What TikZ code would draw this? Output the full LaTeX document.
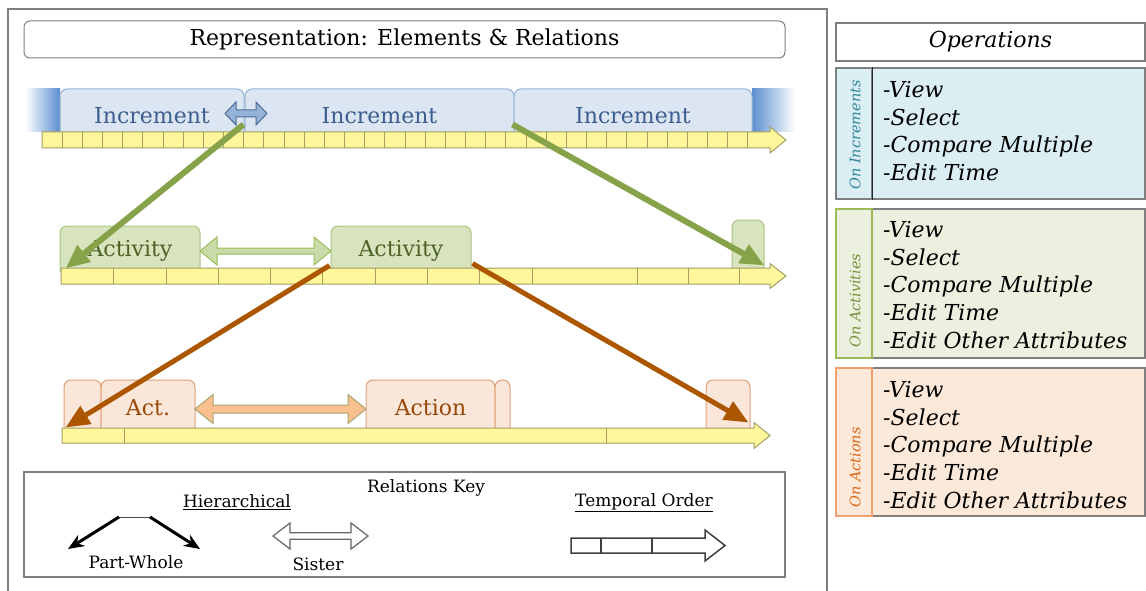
\documentclass[tikz,border=0pt]{standalone}
\usepackage{fontspec}
\setmainfont{DejaVu Serif}
\usetikzlibrary{arrows.meta,calc}

\definecolor{framegray}{HTML}{7F7F7F}
\definecolor{incfill}{HTML}{DCE6F2}
\definecolor{incedge}{HTML}{95B3D7}
\definecolor{inctext}{HTML}{3B5E8F}
\definecolor{incblue}{HTML}{5B8FD0}
\definecolor{incsis}{HTML}{95B3D7}
\definecolor{incsisedge}{HTML}{4F6C99}
\definecolor{actfill}{HTML}{D7E4BD}
\definecolor{actedge}{HTML}{A9C47F}
\definecolor{acttext}{HTML}{4F6228}
\definecolor{actsis}{HTML}{C9DBA8}
\definecolor{actsisedge}{HTML}{9BBB59}
\definecolor{actnfill}{HTML}{FBE7DA}
\definecolor{actnedge}{HTML}{DDA077}
\definecolor{actntext}{HTML}{984807}
\definecolor{actnsis}{HTML}{FAC090}
\definecolor{actnsisedge}{HTML}{A5A56E}
\definecolor{stripfill}{HTML}{FFF799}
\definecolor{stripedge}{HTML}{A39D68}
\definecolor{partgreen}{HTML}{86A34A}
\definecolor{partbrown}{HTML}{AD5600}
\definecolor{incpanel}{HTML}{DBEEF4}
\definecolor{actpanel}{HTML}{EBF1DE}
\definecolor{actnpanel}{HTML}{FDE9D9}
\definecolor{inclab}{HTML}{31859C}
\definecolor{actlab}{HTML}{76923C}
\definecolor{actnlab}{HTML}{D8681A}
\definecolor{actnlabedge}{HTML}{F0A070}

\tikzset{
  elembox/.style={draw, line width=1pt, rounded corners=7pt, inner sep=0pt,
    font=\fontsize{22}{26}\selectfont},
  incbox/.style={elembox, fill=incfill, draw=incedge, text=inctext},
  actbox/.style={elembox, fill=actfill, draw=actedge, text=acttext},
  actnbox/.style={elembox, fill=actnfill, draw=actnedge, text=actntext},
  strip/.style={fill=stripfill, draw=stripedge, line width=1pt},
  cell/.style={draw=stripedge, line width=1pt},
  partof/.style={-{Triangle[length=24pt,width=20pt]}, line width=6pt},
  keytext/.style={inner sep=0pt, font=\fontsize{17}{20}\selectfont},
  pwarrow/.style={-{Stealth[length=16pt,width=13pt]}, line width=3pt},
  panel/.style={draw=framegray, line width=1.5pt, inner sep=0pt},
  oplist/.style={anchor=north west, align=left, inner sep=0pt,
    font=\fontsize{22}{27.7}\selectfont\itshape},
  sidelabel/.style={rotate=90, anchor=west, inner sep=0pt,
    font=\fontsize{14.5}{17}\selectfont\itshape},
}

% timeline: style, x start, shaft end, tip, top, bottom, head overhang
\newcommand{\timestrip}[7]{%
  \draw[#1] (#2,#5) -- (#3,#5) -- (#3,#5-#7) -- (#4,{(#5+#6)/2})
    -- (#3,#6+#7) -- (#3,#6) -- (#2,#6) -- cycle;}
% sister relation: style, x1, x2, y, shaft half, head half, head length
\newcommand{\sisterarrow}[7]{%
  \draw[#1] (#2,#4) -- ++(#7,-#6) -- ++(0,#6-#5) -- (#3-#7,#4-#5)
    -- ++(0,#5-#6) -- (#3,#4) -- ++(-#7,#6) -- ++(0,#5-#6)
    -- (#2+#7,#4+#5) -- ++(0,#6-#5) -- cycle;}

\begin{document}
\begin{tikzpicture}[x=1pt, y=-1pt]
\useasboundingbox (0,0) rectangle (1146,591);

% left frame and title
\draw[framegray, line width=2pt] (8,591) -- (8,9) -- (827,9) -- (827,591);
\node[draw=framegray, line width=1pt, rounded corners=6pt, minimum width=761pt,
  minimum height=37pt, inner sep=0pt, font=\fontsize{22}{26}\selectfont]
  (title) at (404.5,39.5) {Representation: Elements \& Relations};

% increments
\shade[left color=white, right color=incblue] (25,89) rectangle (60,132);
\shade[left color=incblue, right color=white] (752,89) rectangle (795,132);
\node[incbox, minimum width=184pt, minimum height=53pt] (inc1) at (152,115.5) {Increment};
\node[incbox, minimum width=269pt, minimum height=53pt] (inc2) at (379.5,115.5) {Increment};
\node[incbox, minimum width=238pt, minimum height=53pt] (inc3) at (633,115.5) {Increment};
\timestrip{strip}{42}{770}{786}{132}{148}{5}
\foreach \i in {1,...,35}
  \draw[cell] ({42+\i*20.17},132) -- ++(0,16);
\sisterarrow{fill=incsis, draw=incsisedge, line width=1pt}{225}{267}{113.5}{3.5}{11.5}{11}

% activities
\node[actbox, minimum width=140pt, minimum height=50pt] (act1) at (130,251) {Activity};
\node[actbox, minimum width=140pt, minimum height=50pt] (act2) at (401,251) {Activity};
\node[actbox, minimum width=32pt, minimum height=56pt] (act3) at (748,248) {};
\timestrip{strip}{61}{770}{786}{268}{284}{4.5}
\foreach \x in {113,166,218,270,322,375,427,479,532,637,688,739}
  \draw[cell] (\x,268) -- ++(0,16);
\sisterarrow{fill=actsis, draw=actsisedge, line width=1pt}{200}{331}{251}{3}{14}{17}

% actions
\node[actnbox, minimum width=37pt, minimum height=55pt] (actn1) at (82.5,407.5) {};
\node[actnbox, minimum width=94pt, minimum height=55pt] (actn2) at (148,407.5) {Act.};
\node[actnbox, minimum width=129pt, minimum height=55pt] (actn3) at (430.5,407.5) {Action};
\node[actnbox, minimum width=15pt, minimum height=55pt] (actn4) at (502.5,407.5) {};
\node[actnbox, minimum width=44pt, minimum height=55pt] (actn5) at (728,407.5) {};
\timestrip{strip}{62}{754}{770}{428}{443}{5.5}
\foreach \x in {124,606}
  \draw[cell] (\x,428) -- ++(0,15);
\sisterarrow{fill=actnsis, draw=actnsisedge, line width=1pt}{195}{366}{409}{4}{14.5}{18}

% part-whole links between levels
\coordinate (incA) at ($(inc1.south east)+(-1,-18)$);
\coordinate (incB) at ($(inc3.south west)+(-1,-18)$);
\coordinate (actA) at ($(act1.south west)+(6,-8)$);
\coordinate (actB) at ($(act3.south east)+(0,-11)$);
\coordinate (actC) at ($(act2.south west)+(-1,-11)$);
\coordinate (actD) at ($(act2.south east)+(1,-13)$);
\coordinate (actnA) at ($(actn1.south west)+(2,-8)$);
\coordinate (actnB) at ($(actn5.south east)+(-2,-13)$);
\draw[partof, partgreen] (incA) -- (actA);
\draw[partof, partgreen] (incB) -- (actB);
\draw[partof, partbrown, line width=5pt] (actC) -- (actnA);
\draw[partof, partbrown, line width=5pt] (actD) -- (actnB);

% relations key
\node[draw=framegray, line width=1.5pt, minimum width=761pt, minimum height=105pt,
  inner sep=0pt] (key) at (404.5,524.5) {};
\node[keytext] (keytitle) at (426,488) {Relations Key};
\node[keytext] (hier) at (237,502) {\underline{Hierarchical}};
\node[keytext] (temporal) at (644,503) {\underline{Temporal Order}};
\node[keytext] (partwhole) at (136,562) {Part-Whole};
\node[keytext] (sister) at (318,564) {Sister};
\coordinate (pwl) at (119,517);
\coordinate (pwr) at (150,517);
\coordinate (pwa) at (68,549);
\coordinate (pwb) at (200,549);
\draw[black!70, line width=1pt] (pwl) -- (pwr);
\draw[pwarrow] (pwl) -- (pwa);
\draw[pwarrow] (pwr) -- (pwb);
\sisterarrow{fill=white, draw=black!60, line width=1.2pt}{273}{368}{536}{3.3}{13}{17}
\timestrip{fill=white, draw=black!75, line width=1.5pt}{571}{705}{725}{538}{553}{8}
\foreach \x in {601,652}
  \draw[black!75, line width=1.5pt] (\x,538) -- ++(0,15);

% operations
\node[panel, fill=white, minimum width=309pt, minimum height=38pt,
  font=\fontsize{22}{26}\selectfont\itshape] (ops) at (990.5,42) {Operations};

\node[panel, fill=incpanel, minimum width=309pt, minimum height=131pt] (pinc) at (990.5,133.5) {};
\node[draw=framegray, line width=1.2pt, minimum width=131pt, minimum height=36pt,
  inner sep=0pt, rotate=90] (linc) at (854,133.5) {};
\draw[black!85, line width=1.5pt] (linc.south west) -- (linc.south east);
\node[sidelabel, text=inclab] (tinc) at (855,190) {On Increments};
\node[oplist] (opsinc) at (883,81) {-View\\-Select\\-Compare Multiple\\-Edit Time};

\node[panel, fill=actpanel, minimum width=309pt, minimum height=149pt] (pact) at (990.5,283.5) {};
\node[draw=actsisedge, line width=1.2pt, minimum width=149pt, minimum height=36pt,
  inner sep=0pt, rotate=90] (lact) at (854,283.5) {};
\node[sidelabel, text=actlab] (tact) at (855,348) {On Activities};
\node[oplist] (opsact) at (883,221) {-View\\-Select\\-Compare Multiple\\-Edit Time\\-Edit Other Attributes};

\node[panel, fill=actnpanel, minimum width=309pt, minimum height=148pt] (pactn) at (990.5,442) {};
\node[draw=actnlabedge, line width=1.2pt, minimum width=148pt, minimum height=36pt,
  inner sep=0pt, rotate=90] (lactn) at (854,442) {};
\node[sidelabel, text=actnlab] (tactn) at (855,508) {On Actions};
\node[oplist] (opsactn) at (883,381) {-View\\-Select\\-Compare Multiple\\-Edit Time\\-Edit Other Attributes};
\end{tikzpicture}
\end{document}
